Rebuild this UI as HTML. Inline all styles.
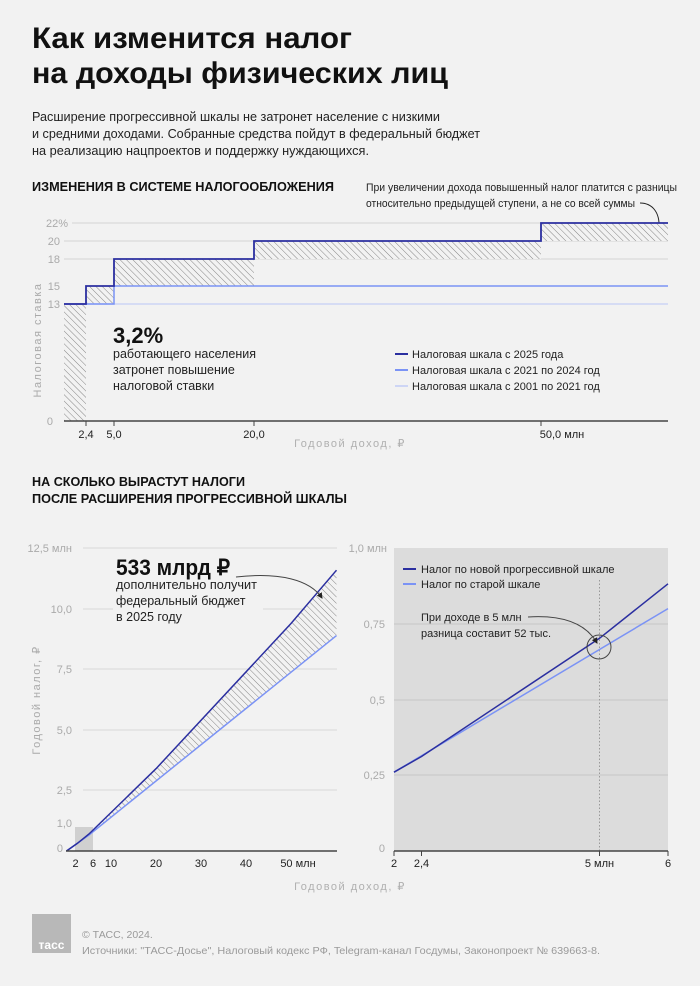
<!DOCTYPE html>
<html><head><meta charset="utf-8"><style>
body{margin:0;background:#f2f2f2}
svg{display:block;font-family:"Liberation Sans","Noto Sans CJK SC",sans-serif}
</style></head><body>
<svg width="700" height="986" viewBox="0 0 700 986" xmlns="http://www.w3.org/2000/svg">
<defs>
<pattern id="h" width="4.5" height="4.5" patternUnits="userSpaceOnUse" patternTransform="rotate(-45)">
<rect width="4.5" height="4.5" fill="#f2f2f2"/><line x1="0" y1="0" x2="0" y2="4.5" stroke="#7a7a7a" stroke-width="0.9"/></pattern>
<marker id="ar" markerWidth="6" markerHeight="6" refX="5" refY="3" orient="auto"><path d="M0,0L6,3L0,6z" fill="#222"/></marker>
</defs>
<rect width="700" height="986" fill="#f2f2f2"/>
<text x="32" y="48" font-size="30" font-weight="bold" fill="#111" textLength="320" lengthAdjust="spacingAndGlyphs">Как изменится налог</text>
<text x="32" y="83" font-size="30" font-weight="bold" fill="#111" textLength="416" lengthAdjust="spacingAndGlyphs">на доходы физических лиц</text>
<g font-size="12.6" fill="#222">
<text x="32" y="121" textLength="408" lengthAdjust="spacingAndGlyphs">Расширение прогрессивной шкалы не затронет население с низкими</text>
<text x="32" y="138" textLength="448" lengthAdjust="spacingAndGlyphs">и средними доходами. Собранные средства пойдут в федеральный бюджет</text>
<text x="32" y="155" textLength="337" lengthAdjust="spacingAndGlyphs">на реализацию нацпроектов и поддержку нуждающихся.</text>
</g>
<text x="32" y="191" font-size="12.5" font-weight="bold" fill="#111" textLength="302" lengthAdjust="spacingAndGlyphs">ИЗМЕНЕНИЯ В СИСТЕМЕ НАЛОГООБЛОЖЕНИЯ</text>
<g font-size="11" fill="#222"><text x="366" y="191" textLength="311" lengthAdjust="spacingAndGlyphs">При увеличении дохода повышенный налог платится с разницы</text>
<text x="366" y="207" textLength="269" lengthAdjust="spacingAndGlyphs">относительно предыдущей ступени, а не со всей суммы</text></g>
<path d="M640,203 C652,203 660,212 659,228" fill="none" stroke="#222" marker-end="url(#ar)"/>
<g stroke="#d4d4d4" stroke-width="1">
<line x1="72" y1="223" x2="668" y2="223"/><line x1="64" y1="241" x2="668" y2="241"/><line x1="64" y1="259" x2="668" y2="259"/>
</g>
<g font-size="11" fill="#aaa" text-anchor="end">
<text x="68" y="227">22%</text><text x="60" y="245">20</text><text x="60" y="263">18</text><text x="60" y="290">15</text><text x="60" y="308">13</text><text x="53" y="425">0</text></g>
<text transform="translate(41,340) rotate(-90)" font-size="11" fill="#aaa" text-anchor="middle" letter-spacing="1.5">Налоговая ставка</text>
<rect x="64" y="304" width="22" height="117" fill="url(#h)"/>
<rect x="86" y="286" width="28" height="18" fill="url(#h)"/>
<rect x="114" y="259" width="140" height="27" fill="url(#h)"/>
<rect x="254" y="241" width="287" height="18" fill="url(#h)"/>
<rect x="541" y="223" width="127" height="18" fill="url(#h)"/>
<line x1="64" y1="304" x2="668" y2="304" stroke="#cdd5f5" stroke-width="1.5"/>
<path d="M64,304H114V286H668" fill="none" stroke="#7b93f5" stroke-width="1.5"/>
<path d="M64,304H86V286H114V259H254V241H541V223H668" fill="none" stroke="#2b2fa0" stroke-width="1.8"/>
<line x1="64" y1="421" x2="668" y2="421" stroke="#444" stroke-width="1.5"/>
<g stroke="#444"><line x1="86" y1="421" x2="86" y2="426"/><line x1="114" y1="421" x2="114" y2="426"/><line x1="254" y1="421" x2="254" y2="426"/><line x1="541" y1="421" x2="541" y2="426"/></g>
<g font-size="11" fill="#222" text-anchor="middle"><text x="86" y="438">2,4</text><text x="114" y="438">5,0</text><text x="254" y="438">20,0</text><text x="562" y="438">50,0 млн</text></g>
<text x="350" y="447" font-size="11" fill="#b0b0b0" text-anchor="middle" letter-spacing="1.5">Годовой доход, ₽</text>
<text x="113" y="343" font-size="22" font-weight="bold" fill="#111">3,2%</text>
<g font-size="12.5" fill="#222"><text x="113" y="358">работающего населения</text><text x="113" y="374">затронет повышение</text><text x="113" y="390">налоговой ставки</text></g>
<line x1="395" y1="354" x2="408" y2="354" stroke="#2b2fa0" stroke-width="2"/>
<line x1="395" y1="370" x2="408" y2="370" stroke="#7b93f5" stroke-width="2"/>
<line x1="395" y1="386" x2="408" y2="386" stroke="#cdd5f5" stroke-width="2"/>
<g font-size="11" fill="#222"><text x="412" y="358">Налоговая шкала с 2025 года</text><text x="412" y="374">Налоговая шкала с 2021 по 2024 год</text><text x="412" y="390">Налоговая шкала с 2001 по 2021 год</text></g>
<g font-size="12.5" font-weight="bold" fill="#111"><text x="32" y="486" textLength="213" lengthAdjust="spacingAndGlyphs">НА СКОЛЬКО ВЫРАСТУТ НАЛОГИ</text><text x="32" y="503" textLength="315" lengthAdjust="spacingAndGlyphs">ПОСЛЕ РАСШИРЕНИЯ ПРОГРЕССИВНОЙ ШКАЛЫ</text></g>
<g stroke="#d8d8d8"><line x1="83" y1="548" x2="337" y2="548"/><line x1="83" y1="609" x2="337" y2="609"/><line x1="83" y1="669" x2="337" y2="669"/><line x1="83" y1="730" x2="337" y2="730"/><line x1="83" y1="790" x2="337" y2="790"/></g>
<g font-size="11" fill="#aaa" text-anchor="end"><text x="72" y="552">12,5 млн</text><text x="72" y="613">10,0</text><text x="72" y="673">7,5</text><text x="72" y="734">5,0</text><text x="72" y="794">2,5</text><text x="72" y="827">1,0</text><text x="63" y="852">0</text></g>
<text transform="translate(40,700) rotate(-90)" font-size="11" fill="#aaa" text-anchor="middle" letter-spacing="1.5">Годовой налог, ₽</text>
<rect x="75" y="827" width="18" height="24" fill="#d0d0d0"/>
<path d="M89,835 L156,768.7 L291,623.5 L336.5,570.2 L336.5,635.6 Z" fill="url(#h)"/>
<path d="M66.5,851 L89,835 L336.5,635.6" fill="none" stroke="#7b93f5" stroke-width="1.5"/>
<path d="M66.5,851 L77.3,843.4 L89,834 L156,768.7 L291,623.5 L336.5,570.2" fill="none" stroke="#2b2fa0" stroke-width="1.5"/>
<rect x="113" y="553" width="150" height="72" fill="#f2f2f2"/>
<text x="116" y="575" font-size="22" font-weight="bold" fill="#111" textLength="114" lengthAdjust="spacingAndGlyphs">533 млрд ₽</text>
<g font-size="12.5" fill="#222"><text x="116" y="589" textLength="141" lengthAdjust="spacingAndGlyphs">дополнительно получит</text><text x="116" y="605">федеральный бюджет</text><text x="116" y="621">в 2025 году</text></g>
<path d="M236,577 C280,572 310,580 322,598" fill="none" stroke="#444" marker-end="url(#ar)"/>
<line x1="66" y1="851" x2="337" y2="851" stroke="#444" stroke-width="1.5"/>
<g font-size="11" fill="#222" text-anchor="middle"><text x="75.5" y="867">2</text><text x="93" y="867">6</text><text x="111" y="867">10</text><text x="156" y="867">20</text><text x="201" y="867">30</text><text x="246" y="867">40</text><text x="298" y="867">50 млн</text></g>
<rect x="394" y="548" width="274" height="303" fill="#dcdcdc"/>
<g stroke="#c6c6c6"><line x1="394" y1="775" x2="668" y2="775"/><line x1="394" y1="700" x2="668" y2="700"/><line x1="394" y1="624" x2="668" y2="624"/></g>
<g font-size="11" fill="#aaa" text-anchor="end"><text x="387" y="552">1,0 млн</text><text x="385" y="628">0,75</text><text x="385" y="704">0,5</text><text x="385" y="779">0,25</text><text x="385" y="852">0</text></g>
<line x1="599.5" y1="580" x2="599.5" y2="851" stroke="#999" stroke-dasharray="1.5,2"/>
<path d="M394,772.2 L668,608.6" stroke="#7b93f5" stroke-width="1.5"/>
<path d="M394,772.2 L421.5,756.5 L599.5,638.3 L668,583.8" fill="none" stroke="#2b2fa0" stroke-width="1.5"/>
<circle cx="599" cy="647" r="12" fill="none" stroke="#444"/>
<line x1="403" y1="569" x2="416" y2="569" stroke="#2b2fa0" stroke-width="2"/>
<line x1="403" y1="584" x2="416" y2="584" stroke="#7b93f5" stroke-width="2"/>
<g font-size="11" fill="#222"><text x="421" y="573">Налог по новой прогрессивной шкале</text><text x="421" y="588">Налог по старой шкале</text>
<text x="421" y="621">При доходе в 5 млн</text><text x="421" y="637">разница составит 52 тыс.</text></g>
<path d="M528,617 C560,615 585,622 597,643" fill="none" stroke="#444" marker-end="url(#ar)"/>
<line x1="394" y1="851" x2="668" y2="851" stroke="#444" stroke-width="1.5"/>
<g stroke="#444"><line x1="394" y1="851" x2="394" y2="856"/><line x1="421.5" y1="851" x2="421.5" y2="856"/><line x1="599.5" y1="851" x2="599.5" y2="856"/><line x1="668" y1="851" x2="668" y2="856"/></g>
<g font-size="11" fill="#222" text-anchor="middle"><text x="394" y="867">2</text><text x="421.5" y="867">2,4</text><text x="599.5" y="867">5 млн</text><text x="668" y="867">6</text></g>
<text x="350" y="890" font-size="11" fill="#b0b0b0" text-anchor="middle" letter-spacing="1.5">Годовой доход, ₽</text>
<rect x="32" y="914" width="39" height="39" fill="#b8b8b8"/>
<text x="51.5" y="949" font-size="12" font-weight="bold" fill="#fff" text-anchor="middle">тасс</text>
<g font-size="10.5" fill="#9a9a9a"><text x="82" y="938">© ТАСС, 2024.</text><text x="82" y="954" textLength="518" lengthAdjust="spacingAndGlyphs">Источники: "ТАСС-Досье", Налоговый кодекс РФ, Telegram-канал Госдумы, Законопроект № 639663-8.</text></g>
</svg>
</body></html>
